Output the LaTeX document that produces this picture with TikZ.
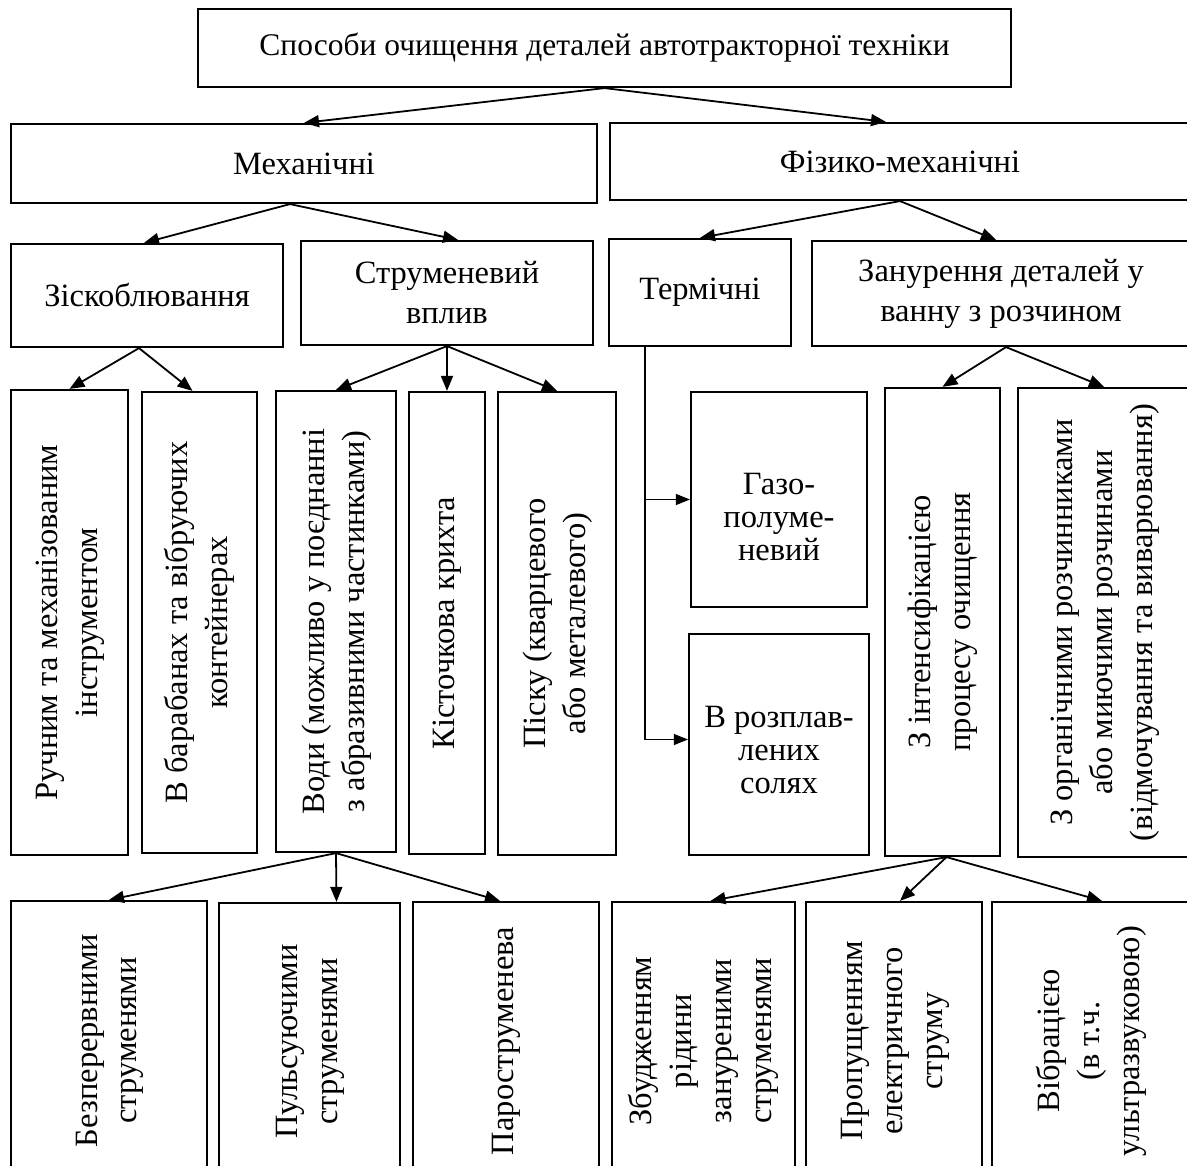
\documentclass[tikz,border=0pt]{standalone}
\usepackage{fontspec}
\usepackage{graphicx}
\setmainfont{Liberation Serif}
\usetikzlibrary{arrows.meta}
\begin{document}
\begin{tikzpicture}[x = 1pt, y = -1pt, box/.style = {draw = black, line width = 2.2pt, inner sep = 0pt, align = center, font = \fontsize{32.5}{40}\selectfont}, arr/.style = {-{Triangle[length = 15pt, width = 12pt]}, black, line width = 1.8pt}, thinarr/.style = {-{Triangle[length = 14pt, width = 11pt]}, black, line width = 1.1pt}]
\useasboundingbox (0, 0) rectangle (1187, 1166);
\clip (0, 0) rectangle (1187, 1166);
\node[box, minimum width = 813pt, minimum height = 78pt, font = \fontsize{31.5}{40}\selectfont] (top) at (604.5, 48){Способи очищення деталей автотракторної техніки};
\node[box, minimum width = 586pt, minimum height = 79pt] (mech) at (304, 163.5){Механічні};
\node[box, minimum width = 580pt, minimum height = 77pt] (phys) at (900, 161.5){Фізико-механічні};
\node[box, minimum width = 272pt, minimum height = 103pt] (scrap) at (147, 295.5){Зіскоблювання};
\node[box, minimum width = 292pt, minimum height = 104pt] (jet) at (447, 293){Струменевий\\вплив};
\node[box, minimum width = 182pt, minimum height = 107pt] (therm) at (700, 292.5){Термічні};
\node[box, minimum width = 378pt, minimum height = 105pt] (bath) at (1001, 293.5){Занурення деталей у\\ванну з розчином};
\node[box, minimum width = 117pt, minimum height = 465pt] (hand) at (69.5, 622.5){\rotatebox{90}{\begin{tabular}{@{}c@{}}Ручним та механізованим\\інструментом\end{tabular}}};
\node[box, minimum width = 115pt, minimum height = 461pt] (drum) at (199.5, 622.5){\rotatebox{90}{\begin{tabular}{@{}c@{}}В барабанах та вібруючих\\контейнерах\end{tabular}}};
\node[box, minimum width = 120pt, minimum height = 461pt] (water) at (336, 621.5){\rotatebox{90}{\begin{tabular}{@{}c@{}}Води (можливо у поєднанні\\з абразивними частинками)\end{tabular}}};
\node[box, minimum width = 76pt, minimum height = 462pt] (stone) at (447, 623){\rotatebox{90}{Кісточкова крихта}};
\node[box, minimum width = 118pt, minimum height = 463pt] (sand) at (557, 623.5){\rotatebox{90}{\begin{tabular}{@{}c@{}}Піску (кварцевого\\або металевого)\end{tabular}}};
\node[box, minimum width = 176pt, minimum height = 215pt] (gas) at (779, 499.5){\raisebox{-28pt}[0pt][0pt]{\fontsize{32.5}{33}\selectfont\begin{tabular}{@{}c@{}}Газо-\\полуме-\\невий\end{tabular}}};
\node[box, minimum width = 180pt, minimum height = 221pt] (salt) at (779, 744.5){\raisebox{-15.5pt}[0pt][0pt]{\fontsize{32.5}{33}\selectfont\begin{tabular}{@{}c@{}}В розплав-\\лених\\солях\end{tabular}}};
\node[box, minimum width = 115pt, minimum height = 468pt] (intens) at (942.5, 622){\rotatebox{90}{\begin{tabular}{@{}c@{}}З інтенсифікацією\\процесу очищення\end{tabular}}};
\node[box, minimum width = 172pt, minimum height = 469pt] (organ) at (1104, 622.5){\rotatebox{90}{\begin{tabular}{@{}c@{}}З органічними розчинниками\\або миючими розчинами\\(відмочування та виварювання)\end{tabular}}};
\node[box, minimum width = 196pt, minimum height = 279pt] (cont) at (109, 1040.5){\rotatebox{90}{\begin{tabular}{@{}c@{}}Безперервними\\струменями\end{tabular}}};
\node[box, minimum width = 181pt, minimum height = 277pt] (puls) at (309.5, 1041.5){\rotatebox{90}{\begin{tabular}{@{}c@{}}Пульсуючими\\струменями\end{tabular}}};
\node[box, minimum width = 186pt, minimum height = 278pt] (steam) at (506, 1041){\rotatebox{90}{Пароструменева}};
\node[box, minimum width = 183pt, minimum height = 278pt] (excit) at (703.5, 1041){\rotatebox{90}{\begin{tabular}{@{}c@{}}Збудженням\\рідини\\зануреними\\струменями\end{tabular}}};
\node[box, minimum width = 176pt, minimum height = 278pt] (curr) at (894, 1041){\rotatebox{90}{\begin{tabular}{@{}c@{}}Пропущенням\\електричного\\струму\end{tabular}}};
\node[box, minimum width = 198pt, minimum height = 278pt] (vibr) at (1091, 1041){\rotatebox{90}{\begin{tabular}{@{}c@{}}Вібрацією\\(в т.ч.\\ультразвуковою)\end{tabular}}};
\coordinate (tb) at ([xshift = -55pt]therm.south);
\draw[arr] (top.south) -- (mech.north);
\draw[arr] (top.south) -- ([xshift = -14pt]phys.north);
\draw[arr] ([xshift = -14pt]mech.south) -- ([xshift = -3pt]scrap.north);
\draw[arr] ([xshift = -14pt]mech.south) -- ([xshift = 11pt]jet.north);
\draw[arr] (phys.south) -- (therm.north);
\draw[arr] (phys.south) -- ([xshift = -5pt]bath.north);
\draw[arr] ([xshift = -8pt]scrap.south) -- (hand.north);
\draw[arr] ([xshift = -8pt]scrap.south) -- ([xshift = -7pt]drum.north);
\draw[arr] (jet.south) -- (water.north);
\draw[arr] (jet.south) -- (stone.north);
\draw[arr] (jet.south) -- (sand.north);
\draw[thinarr] (tb) |- (gas.west);
\draw[thinarr] (tb) |- ([yshift = 5pt]salt.west);
\draw[arr] ([xshift = 5pt]bath.south) -- (intens.north);
\draw[arr] ([xshift = 5pt]bath.south) -- (organ.north);
\draw[arr] (water.south) -- (cont.north);
\draw[arr] (water.south) -- ([xshift = 27pt]puls.north);
\draw[arr] (water.south) -- ([xshift = -6pt]steam.north);
\draw[arr] ([xshift = 4pt]intens.south) -- ([xshift = 7pt]excit.north);
\draw[arr] ([xshift = 4pt]intens.south) -- ([xshift = 6pt]curr.north);
\draw[arr] ([xshift = 4pt]intens.south) -- ([xshift = 11pt]vibr.north);
\end{tikzpicture}
\end{document}
